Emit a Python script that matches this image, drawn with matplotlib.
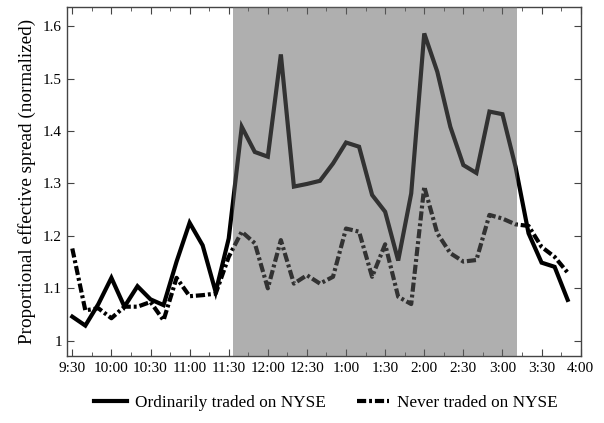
import matplotlib
matplotlib.use("Agg")
import matplotlib.pyplot as plt
from matplotlib.ticker import MultipleLocator

# 10-minute intervals over the trading day
times = ["9:30", "9:40", "9:50", "10:00", "10:10", "10:20", "10:30", "10:40", "10:50",
         "11:00", "11:10", "11:20", "11:30", "11:40", "11:50", "12:00", "12:10", "12:20",
         "12:30", "12:40", "12:50", "1:00", "1:10", "1:20", "1:30", "1:40", "1:50",
         "2:00", "2:10", "2:20", "2:30", "2:40", "2:50", "3:00", "3:10", "3:20",
         "3:30", "3:40", "3:50"]

ordinarily = [1.046, 1.029, 1.070, 1.120, 1.065, 1.104, 1.079, 1.068, 1.151,
              1.225, 1.182, 1.093, 1.195, 1.408, 1.360, 1.351, 1.546, 1.294,
              1.299, 1.305, 1.338, 1.378, 1.370, 1.278, 1.246, 1.153, 1.281,
              1.586, 1.513, 1.408, 1.335, 1.320, 1.437, 1.432, 1.332, 1.205,
              1.149, 1.141, 1.078]

never = [1.176, 1.058, 1.062, 1.043, 1.065, 1.065, 1.074, 1.039, 1.120,
         1.085, 1.087, 1.090, 1.160, 1.208, 1.186, 1.100, 1.192, 1.109,
         1.125, 1.109, 1.122, 1.214, 1.208, 1.122, 1.184, 1.084, 1.070,
         1.294, 1.205, 1.167, 1.151, 1.154, 1.240, 1.233, 1.222, 1.219,
         1.179, 1.160, 1.130]

tick_labels = ["9:30", "10:00", "10:30", "11:00", "11:30", "12:00", "12:30",
               "1:00", "1:30", "2:00", "2:30", "3:00", "3:30", "4:00"]

shade_start, shade_end = "11:33", "3:11"


def to_minutes(t: str) -> float:
    h, m = t.split(":")
    h = int(h)
    if h < 9:
        h += 12
    return (h - 9) * 60 + int(m) - 30


x = [to_minutes(t) for t in times]

plt.rcParams['font.family'] = ['Liberation Serif', 'DejaVu Serif']

fig = plt.figure(figsize=(6.04, 4.23), dpi=100)
ax = fig.add_axes([0.1104, 0.1584, 0.851, 0.8258])

ax.plot(x, ordinarily, color="black", lw=3.0, solid_joinstyle="miter",
        label="Ordinarily traded on NYSE")
ax.plot(x, never, color="black", lw=3.0, linestyle=(0, (2.2, 0.7, 0.7, 0.7)),
        label="Never traded on NYSE")

# Shaded period drawn over the lines, which makes them look grey inside
ax.axvspan(to_minutes(shade_start), to_minutes(shade_end), color=(0.39, 0.39, 0.39),
           alpha=0.51, lw=0, zorder=3)

ax.set_xlim(-4.3, 390)
ax.set_ylim(0.971, 1.637)
ax.set_xticks([to_minutes(t) for t in tick_labels])
ax.set_xticklabels(tick_labels)
ax.xaxis.set_minor_locator(MultipleLocator(15))
ax.set_yticks([1.0, 1.1, 1.2, 1.3, 1.4, 1.5, 1.6])
ax.set_yticklabels(["1", "1.1", "1.2", "1.3", "1.4", "1.5", "1.6"])

ax.tick_params(axis="both", which="both", direction="in", top=True, right=True,
               labelsize=11, color="#444444")
ax.tick_params(axis="both", which="major", length=5)
ax.tick_params(axis="x", which="major", pad=4)
ax.tick_params(axis="both", which="minor", length=3)
for s in ax.spines.values():
    s.set_color("#444444")
    s.set_linewidth(1.0)

ax.set_ylabel("Proportional effective spread (normalized)", fontsize=13.8, labelpad=5)

fig.legend(loc="center", bbox_to_anchor=(0.54, 0.047), ncol=2, frameon=False,
           fontsize=12.4, handlelength=1.9, handletextpad=0.45, columnspacing=1.8)

plt.savefig("out.png", dpi=100)
